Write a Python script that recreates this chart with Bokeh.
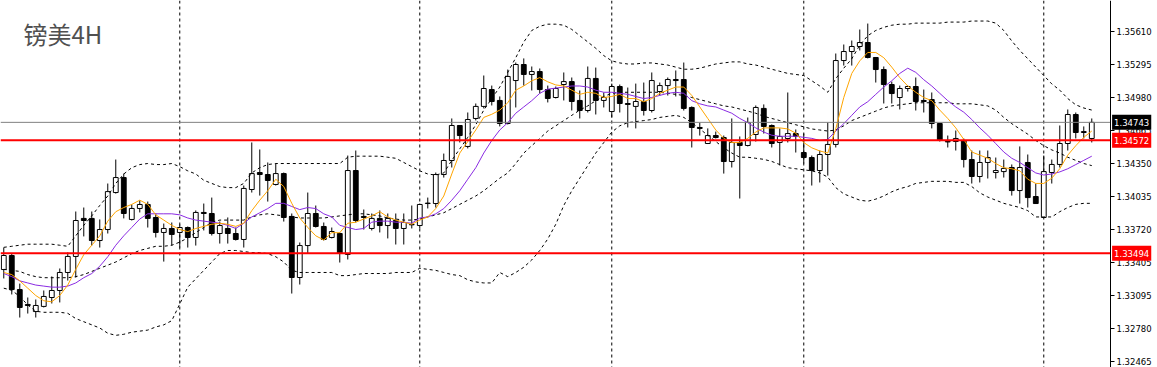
from bokeh.plotting import figure
from bokeh.models import (Range1d, LinearAxis, FixedTicker, PrintfTickFormatter,
                          Span, Label, ColumnDataSource)
from bokeh.embed import file_html
from bokeh.resources import INLINE

title_text = "镑美4H"

open_ = [1.33338, 1.33472, 1.33147, 1.33005, 1.32937, 1.32986, 1.33071, 1.33138, 1.33310, 1.33463,
         1.33826, 1.33826, 1.33615, 1.33720, 1.34073, 1.34216, 1.33816, 1.33921, 1.33959, 1.33835,
         1.33692, 1.33730, 1.33692, 1.33739, 1.33644, 1.33883, 1.33873, 1.33682, 1.33730, 1.33682,
         1.33625, 1.34102, 1.34264, 1.34245, 1.34150, 1.34254, 1.33845, 1.33262, 1.33567, 1.33873,
         1.33749, 1.33644, 1.33682, 1.33482, 1.34283, 1.33845, 1.33730, 1.33826, 1.33758, 1.33806,
         1.33730, 1.33768, 1.33758, 1.33968, 1.33968, 1.34245, 1.34379, 1.34713, 1.34513, 1.34780,
         1.34895, 1.35056, 1.34952, 1.34732, 1.35142, 1.35295, 1.35200, 1.35228, 1.35056, 1.34980,
         1.35104, 1.35132, 1.34952, 1.34856, 1.35162, 1.34952, 1.34846, 1.35085, 1.34923, 1.34895,
         1.34942, 1.34856, 1.35037, 1.35094, 1.35152, 1.35152, 1.34885, 1.34694, 1.34541, 1.34617,
         1.34598, 1.34369, 1.34551, 1.34522, 1.34627, 1.34876, 1.34713, 1.34551, 1.34589, 1.34636,
         1.34455, 1.34407, 1.34283, 1.34436, 1.34532, 1.35333, 1.35419, 1.35467, 1.35505, 1.35362,
         1.35247, 1.35104, 1.34980, 1.35066, 1.35085, 1.34952, 1.34961, 1.34732, 1.34560, 1.34560,
         1.34570, 1.34388, 1.34226, 1.34360, 1.34264, 1.34273, 1.34312, 1.34092, 1.34360, 1.34035,
         1.33835, 1.34264, 1.34341, 1.34541, 1.34818, 1.34646, 1.34589]

high = [1.33548, 1.33491, 1.33204, 1.33071, 1.33052, 1.33138, 1.33272, 1.33348, 1.33501, 1.33892,
        1.33930, 1.33892, 1.33816, 1.34159, 1.34388, 1.34254, 1.33959, 1.33997, 1.33987, 1.33873,
        1.33777, 1.33787, 1.33768, 1.33749, 1.33902, 1.33968, 1.34025, 1.33796, 1.33835, 1.33739,
        1.34140, 1.34551, 1.34484, 1.34360, 1.34350, 1.34264, 1.33873, 1.33596, 1.34073, 1.33949,
        1.33787, 1.33739, 1.33692, 1.34426, 1.34474, 1.33911, 1.33873, 1.33902, 1.33873, 1.33873,
        1.33873, 1.33949, 1.33968, 1.34025, 1.34264, 1.34445, 1.34780, 1.34713, 1.34837, 1.34923,
        1.35190, 1.35094, 1.34990, 1.35247, 1.35314, 1.35353, 1.35276, 1.35257, 1.35094, 1.35085,
        1.35219, 1.35171, 1.35047, 1.35276, 1.35266, 1.35028, 1.35113, 1.35104, 1.35075, 1.35113,
        1.35123, 1.35219, 1.35123, 1.35171, 1.35238, 1.35314, 1.34895, 1.34742, 1.34685, 1.34655,
        1.34617, 1.34780, 1.34608, 1.34789, 1.34904, 1.34914, 1.34723, 1.34685, 1.35028, 1.34675,
        1.34636, 1.34426, 1.34474, 1.34742, 1.35400, 1.35486, 1.35524, 1.35629, 1.35686, 1.35362,
        1.35276, 1.35132, 1.35094, 1.35094, 1.35171, 1.35056, 1.35028, 1.34732, 1.34617, 1.34665,
        1.34589, 1.34474, 1.34474, 1.34474, 1.34407, 1.34388, 1.34341, 1.34513, 1.34436, 1.34159,
        1.34426, 1.34388, 1.34713, 1.34866, 1.34837, 1.34704, 1.34780]

low = [1.33253, 1.33100, 1.32880, 1.32918, 1.32880, 1.32976, 1.33014, 1.33024, 1.33233, 1.33262,
       1.33654, 1.33567, 1.33548, 1.33682, 1.34063, 1.33826, 1.33806, 1.33883, 1.33739, 1.33644,
       1.33414, 1.33567, 1.33548, 1.33548, 1.33567, 1.33711, 1.33663, 1.33586, 1.33586, 1.33615,
       1.33548, 1.34073, 1.34044, 1.33987, 1.34140, 1.33796, 1.33109, 1.33195, 1.33491, 1.33739,
       1.33615, 1.33635, 1.33405, 1.33434, 1.33787, 1.33720, 1.33711, 1.33692, 1.33635, 1.33577,
       1.33577, 1.33730, 1.33730, 1.33921, 1.33930, 1.34216, 1.34312, 1.34551, 1.34494, 1.34761,
       1.34876, 1.34904, 1.34704, 1.34723, 1.34885, 1.35094, 1.35047, 1.35018, 1.34933, 1.34971,
       1.34952, 1.34856, 1.34780, 1.34837, 1.34818, 1.34885, 1.34789, 1.34837, 1.34694, 1.34685,
       1.34808, 1.34837, 1.34999, 1.34999, 1.34990, 1.34856, 1.34503, 1.34617, 1.34536, 1.34589,
       1.34254, 1.34312, 1.34016, 1.34513, 1.34560, 1.34636, 1.34503, 1.34331, 1.34551, 1.34455,
       1.34350, 1.34140, 1.34169, 1.34235, 1.34503, 1.35285, 1.35285, 1.35429, 1.35353, 1.35123,
       1.34923, 1.34923, 1.34866, 1.35037, 1.34856, 1.34837, 1.34685, 1.34560, 1.34503, 1.34474,
       1.34312, 1.34159, 1.34169, 1.34207, 1.34207, 1.34216, 1.34044, 1.33968, 1.33930, 1.33968,
       1.33835, 1.34159, 1.34312, 1.34474, 1.34589, 1.34589, 1.34551]

close_ = [1.33472, 1.33147, 1.32976, 1.32995, 1.32995, 1.33081, 1.33138, 1.33310, 1.33463, 1.33806,
          1.33806, 1.33615, 1.33720, 1.34082, 1.34216, 1.33873, 1.33921, 1.33959, 1.33826, 1.33692,
          1.33730, 1.33673, 1.33739, 1.33644, 1.33883, 1.33873, 1.33682, 1.33758, 1.33682, 1.33625,
          1.34112, 1.34254, 1.34245, 1.34188, 1.34254, 1.33835, 1.33262, 1.33567, 1.33873, 1.33749,
          1.33625, 1.33701, 1.33491, 1.34283, 1.33806, 1.33835, 1.33826, 1.33758, 1.33826, 1.33730,
          1.33787, 1.33765, 1.33959, 1.33972, 1.34245, 1.34379, 1.34713, 1.34617, 1.34770, 1.34895,
          1.35066, 1.34942, 1.34732, 1.35181, 1.35295, 1.35200, 1.35228, 1.35056, 1.34971, 1.35066,
          1.35132, 1.34942, 1.34856, 1.35162, 1.34952, 1.34980, 1.35085, 1.34923, 1.34914, 1.34942,
          1.34856, 1.35142, 1.35094, 1.35152, 1.35142, 1.34876, 1.34694, 1.34685, 1.34617, 1.34598,
          1.34369, 1.34551, 1.34522, 1.34742, 1.34885, 1.34704, 1.34541, 1.34608, 1.34636, 1.34608,
          1.34407, 1.34283, 1.34436, 1.34532, 1.35333, 1.35419, 1.35467, 1.35505, 1.35362, 1.35247,
          1.35104, 1.35018, 1.35066, 1.35085, 1.34942, 1.34942, 1.34732, 1.34570, 1.34556, 1.34589,
          1.34388, 1.34226, 1.34360, 1.34407, 1.34283, 1.34303, 1.34092, 1.34312, 1.34025, 1.33968,
          1.34273, 1.34341, 1.34541, 1.34818, 1.34646, 1.34655, 1.34743]

ma_fast = [1.3331, 1.3329, 1.3323, 1.3316, 1.3309, 1.3304, 1.3303, 1.3309, 1.3319, 1.3334,
           1.3348, 1.3357, 1.3366, 1.3380, 1.3389, 1.3393, 1.3396, 1.3400, 1.3396, 1.3386,
           1.3381, 1.3376, 1.3372, 1.3370, 1.3373, 1.3375, 1.3377, 1.3378, 1.3377, 1.3375,
           1.3378, 1.3390, 1.3400, 1.3409, 1.3420, 1.3413, 1.3397, 1.3383, 1.3374, 1.3366,
           1.3362, 1.3369, 1.3369, 1.3378, 1.3379, 1.3382, 1.3385, 1.3389, 1.3384, 1.3381,
           1.3379, 1.3377, 1.3381, 1.3384, 1.3392, 1.3404, 1.3425, 1.3445, 1.3456, 1.3467,
           1.3479, 1.3482, 1.3486, 1.3493, 1.3505, 1.3509, 1.3514, 1.3517, 1.3513, 1.3510,
           1.3509, 1.3505, 1.3501, 1.3503, 1.3502, 1.3498, 1.3499, 1.3501, 1.3497, 1.3497,
           1.3494, 1.3497, 1.3502, 1.3505, 1.3508, 1.3508, 1.3500, 1.3489, 1.3478, 1.3467,
           1.3459, 1.3455, 1.3455, 1.3459, 1.3465, 1.3469, 1.3469, 1.3469, 1.3468, 1.3464,
           1.3455, 1.3450, 1.3447, 1.3445, 1.3468, 1.3498, 1.3521, 1.3533, 1.3541, 1.3541,
           1.3536, 1.3527, 1.3517, 1.3509, 1.3503, 1.3498, 1.3495, 1.3486, 1.3478, 1.3469,
           1.3458, 1.3446, 1.3443, 1.3440, 1.3435, 1.3431, 1.3430, 1.3428, 1.3420, 1.3416,
           1.3416, 1.3421, 1.3430, 1.3443, 1.3452, 1.3460, 1.3466]

ma_slow = [1.3330, 1.3327, 1.3323, 1.3321, 1.3319, 1.3318, 1.3317, 1.3317, 1.3318, 1.3321,
           1.3326, 1.3330, 1.3337, 1.3346, 1.3357, 1.3366, 1.3374, 1.3382, 1.3387, 1.3387,
           1.3387, 1.3387, 1.3386, 1.3383, 1.3381, 1.3380, 1.3379, 1.3378, 1.3376, 1.3373,
           1.3378, 1.3384, 1.3388, 1.3392, 1.3397, 1.3397, 1.3394, 1.3391, 1.3393, 1.3392,
           1.3387, 1.3384, 1.3376, 1.3374, 1.3372, 1.3373, 1.3379, 1.3380, 1.3380, 1.3379,
           1.3379, 1.3378, 1.3383, 1.3384, 1.3387, 1.3392, 1.3400, 1.3409, 1.3420, 1.3431,
           1.3445, 1.3457, 1.3467, 1.3474, 1.3483, 1.3489, 1.3495, 1.3502, 1.3506, 1.3507,
           1.3508, 1.3509, 1.3509, 1.3508, 1.3505, 1.3503, 1.3503, 1.3502, 1.3501, 1.3499,
           1.3497, 1.3498, 1.3500, 1.3502, 1.3503, 1.3502, 1.3495, 1.3492, 1.3490, 1.3489,
           1.3486, 1.3483, 1.3478, 1.3474, 1.3469, 1.3465, 1.3462, 1.3461, 1.3461, 1.3461,
           1.3460, 1.3459, 1.3457, 1.3458, 1.3466, 1.3473, 1.3481, 1.3489, 1.3494, 1.3501,
           1.3508, 1.3514, 1.3521, 1.3526, 1.3522, 1.3515, 1.3509, 1.3502, 1.3495, 1.3489,
           1.3484, 1.3477, 1.3469, 1.3462, 1.3454, 1.3446, 1.3440, 1.3436, 1.3431, 1.3426,
           1.3424, 1.3425, 1.3427, 1.3430, 1.3434, 1.3438, 1.3442]

bb_upper = [1.3355, 1.3356, 1.3357, 1.3358, 1.3358, 1.3358, 1.3358, 1.3357, 1.3356, 1.3366,
            1.3376, 1.3385, 1.3395, 1.3404, 1.3416, 1.3425, 1.3431, 1.3434, 1.3435, 1.3434,
            1.3434, 1.3435, 1.3432, 1.3428, 1.3425, 1.3419, 1.3416, 1.3413, 1.3412, 1.3412,
            1.3416, 1.3426, 1.3431, 1.3434, 1.3435, 1.3435, 1.3435, 1.3435, 1.3435, 1.3435,
            1.3435, 1.3435, 1.3435, 1.3441, 1.3442, 1.3442, 1.3442, 1.3442, 1.3441, 1.3440,
            1.3436, 1.3432, 1.3428, 1.3425, 1.3424, 1.3426, 1.3438, 1.3449, 1.3460, 1.3472,
            1.3486, 1.3497, 1.3508, 1.3522, 1.3536, 1.3551, 1.3562, 1.3566, 1.3568, 1.3568,
            1.3567, 1.3563, 1.3557, 1.3551, 1.3545, 1.3538, 1.3533, 1.3531, 1.3530, 1.3530,
            1.3531, 1.3531, 1.3530, 1.3529, 1.3527, 1.3525, 1.3525, 1.3526, 1.3528, 1.3530,
            1.3531, 1.3532, 1.3532, 1.3530, 1.3529, 1.3527, 1.3525, 1.3523, 1.3521, 1.3520,
            1.3519, 1.3514, 1.3509, 1.3503, 1.3516, 1.3526, 1.3535, 1.3548, 1.3557, 1.3562,
            1.3565, 1.3567, 1.3568, 1.3568, 1.3569, 1.3569, 1.3569, 1.3569, 1.3570, 1.3570,
            1.3570, 1.3571, 1.3571, 1.3571, 1.3569, 1.3562, 1.3552, 1.3543, 1.3535, 1.3527,
            1.3519, 1.3511, 1.3505, 1.3497, 1.3491, 1.3488, 1.3486]

bb_middle = [1.3334, 1.3333, 1.3332, 1.3329, 1.3327, 1.3326, 1.3326, 1.3326, 1.3326, 1.3327,
             1.3329, 1.3332, 1.3335, 1.3338, 1.3341, 1.3345, 1.3349, 1.3352, 1.3354, 1.3356,
             1.3356, 1.3357, 1.3360, 1.3364, 1.3369, 1.3374, 1.3379, 1.3381, 1.3381, 1.3381,
             1.3381, 1.3384, 1.3386, 1.3387, 1.3386, 1.3385, 1.3384, 1.3383, 1.3383, 1.3383,
             1.3383, 1.3384, 1.3385, 1.3386, 1.3387, 1.3387, 1.3386, 1.3385, 1.3383, 1.3382,
             1.3381, 1.3381, 1.3382, 1.3384, 1.3386, 1.3388, 1.3392, 1.3396, 1.3400, 1.3404,
             1.3409, 1.3415, 1.3421, 1.3426, 1.3435, 1.3445, 1.3452, 1.3459, 1.3466, 1.3471,
             1.3476, 1.3481, 1.3486, 1.3490, 1.3495, 1.3499, 1.3502, 1.3503, 1.3503, 1.3503,
             1.3503, 1.3503, 1.3503, 1.3502, 1.3501, 1.3500, 1.3498, 1.3496, 1.3494, 1.3492,
             1.3490, 1.3489, 1.3487, 1.3485, 1.3483, 1.3480, 1.3478, 1.3476, 1.3474, 1.3472,
             1.3470, 1.3468, 1.3467, 1.3466, 1.3467, 1.3471, 1.3476, 1.3479, 1.3482, 1.3485,
             1.3488, 1.3490, 1.3491, 1.3492, 1.3493, 1.3493, 1.3493, 1.3493, 1.3493, 1.3492,
             1.3492, 1.3492, 1.3491, 1.3490, 1.3486, 1.3479, 1.3473, 1.3468, 1.3463, 1.3457,
             1.3452, 1.3448, 1.3445, 1.3441, 1.3438, 1.3435, 1.3433]

bb_lower = [1.3316, 1.3314, 1.3308, 1.3300, 1.3294, 1.3293, 1.3293, 1.3293, 1.3292, 1.3287,
            1.3284, 1.3281, 1.3278, 1.3273, 1.3271, 1.3272, 1.3274, 1.3275, 1.3276, 1.3279,
            1.3281, 1.3285, 1.3301, 1.3317, 1.3325, 1.3333, 1.3341, 1.3349, 1.3352, 1.3352,
            1.3351, 1.3350, 1.3350, 1.3349, 1.3346, 1.3341, 1.3333, 1.3331, 1.3331, 1.3331,
            1.3331, 1.3331, 1.3328, 1.3328, 1.3329, 1.3330, 1.3330, 1.3330, 1.3330, 1.3331,
            1.3331, 1.3331, 1.3335, 1.3334, 1.3333, 1.3331, 1.3329, 1.3328, 1.3324, 1.3322,
            1.3321, 1.3321, 1.3331, 1.3327, 1.3331, 1.3336, 1.3343, 1.3352, 1.3363, 1.3377,
            1.3395, 1.3409, 1.3421, 1.3433, 1.3445, 1.3455, 1.3465, 1.3471, 1.3474, 1.3475,
            1.3476, 1.3477, 1.3479, 1.3480, 1.3481, 1.3479, 1.3474, 1.3468, 1.3462, 1.3456,
            1.3450, 1.3445, 1.3441, 1.3441, 1.3440, 1.3439, 1.3437, 1.3434, 1.3431, 1.3430,
            1.3429, 1.3428, 1.3426, 1.3422, 1.3412, 1.3406, 1.3403, 1.3400, 1.3399, 1.3401,
            1.3404, 1.3408, 1.3411, 1.3413, 1.3416, 1.3417, 1.3418, 1.3418, 1.3418, 1.3417,
            1.3417, 1.3413, 1.3407, 1.3403, 1.3400, 1.3397, 1.3395, 1.3393, 1.3390, 1.3384,
            1.3384, 1.3384, 1.3389, 1.3393, 1.3396, 1.3397, 1.3397]

level_lines = [1.34572, 1.33494]
current_price = 1.34743
separator_bars = [22, 52, 76, 100, 130]
y_ticks = [1.32465, 1.32780, 1.33095, 1.33405, 1.33720, 1.34035,
           1.34350, 1.34665, 1.34980, 1.35295, 1.35610]

n = len(close_)
idx = list(range(n))

# bar slots are 8 px wide; the price scale sits 47 px from the right edge
x_start = -0.41
x_end = x_start + 1157 / 8.0
axis_x = x_start + 1110 / 8.0

p = figure(width=1157, height=367, output_backend="svg", toolbar_location=None,
           x_range=Range1d(x_start, x_end), y_range=Range1d(1.32403, 1.35906),
           x_axis_location=None, y_axis_location=None,
           min_border_left=0, min_border_right=0, min_border_top=0, min_border_bottom=0)
p.xgrid.visible = False
p.ygrid.visible = False
p.outline_line_color = None
p.background_fill_color = "white"
p.border_fill_color = "white"

ax = LinearAxis(ticker=FixedTicker(ticks=y_ticks, minor_ticks=[]),
                formatter=PrintfTickFormatter(format="%.5f"),
                fixed_location=axis_x)
ax.major_tick_in = 0
ax.major_tick_out = 4
ax.minor_tick_in = 0
ax.minor_tick_out = 0
ax.axis_line_color = "black"
ax.major_tick_line_color = "black"
ax.major_label_text_font = "DejaVu Sans"
ax.major_label_text_font_size = "8.5px"
ax.major_label_text_color = "black"
ax.major_label_standoff = 2
p.add_layout(ax, "right")

for b in separator_bars:
    p.add_layout(Span(location=b, dimension="height", line_color="black",
                      line_dash="3 3", line_width=1, level="underlay"))

top = [max(o, c) for o, c in zip(open_, close_)]
bottom = [min(o, c) for o, c in zip(open_, close_)]
fill = ["white" if c >= o else "black" for o, c in zip(open_, close_)]
src = ColumnDataSource(dict(x=idx, h=high, l=low, top=top, bottom=bottom, fill=fill))

p.segment(x0="x", y0="h", x1="x", y1="l", source=src, line_color="black", line_width=1)
p.vbar(x="x", width=0.6, top="top", bottom="bottom", source=src,
       fill_color="fill", line_color="black", line_width=1)

for band in (bb_upper, bb_middle, bb_lower):
    p.line(idx, band, line_color="black", line_dash="3 3", line_width=1)
p.line(idx, ma_slow, line_color="#8A2BE2", line_width=1)
p.line(idx, ma_fast, line_color="#FFA500", line_width=1)

p.segment(x0=[x_start], y0=[current_price], x1=[axis_x], y1=[current_price],
          line_color="#808080", line_width=1)
p.segment(x0=[x_start] * len(level_lines), y0=level_lines,
          x1=[axis_x] * len(level_lines), y1=level_lines,
          line_color="#FF0000", line_width=2)

label_x = axis_x + 0.2
p.add_layout(Label(x=label_x, y=current_price, text="%.5f" % current_price,
                   text_color="white", background_fill_color="black",
                   text_font="DejaVu Sans", text_font_size="8.5px", text_baseline="middle",
                   padding=(2, 4)))
for lv in level_lines:
    p.add_layout(Label(x=label_x, y=lv, text="%.5f" % lv,
                       text_color="white", background_fill_color="#FF0000",
                       text_font="DejaVu Sans", text_font_size="8.5px", text_baseline="middle",
                       padding=(2, 4)))

p.add_layout(Label(x=2.46, y=1.35591, text=title_text, text_color="#505050",
                   text_font="Noto Sans CJK SC", text_font_size="24px",
                   text_baseline="middle"))

open("out.html", "w").write(file_html(p, INLINE))
